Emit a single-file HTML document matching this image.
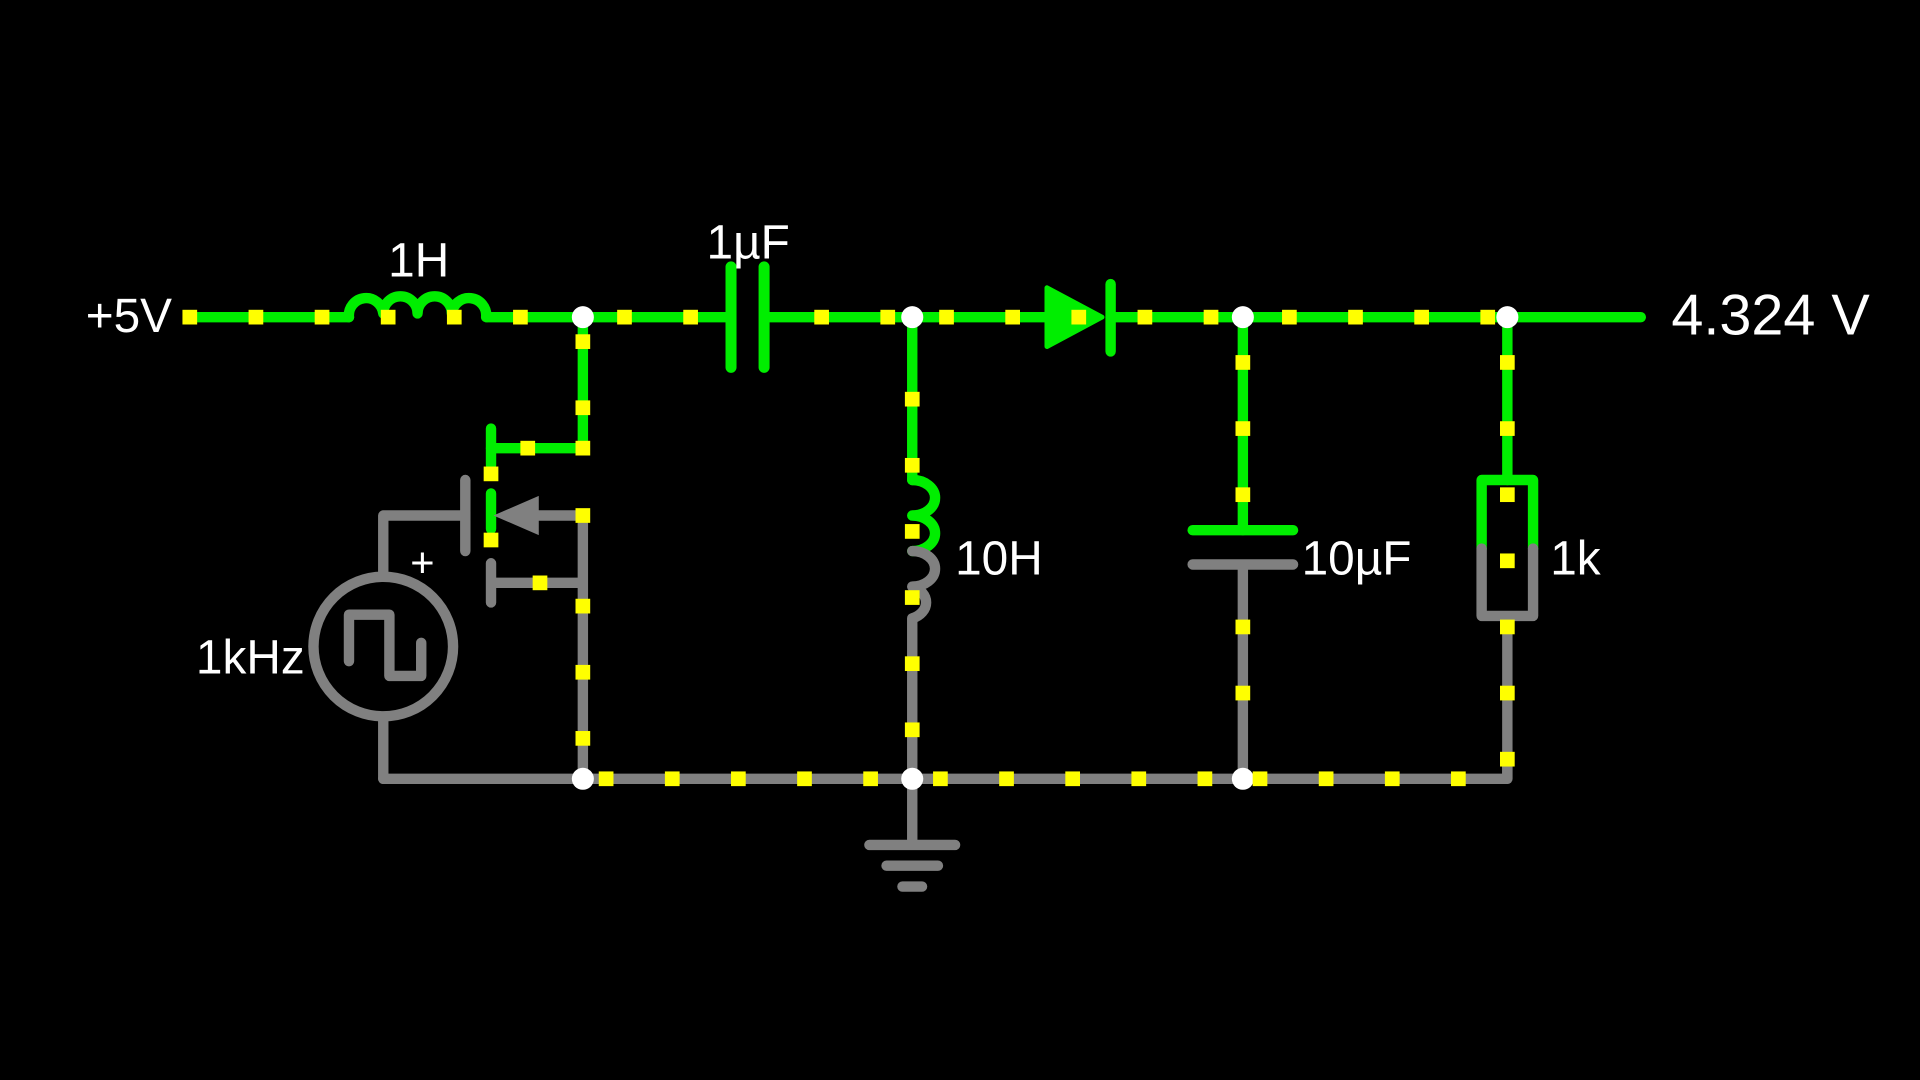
<!DOCTYPE html>
<html><head><meta charset="utf-8"><style>
html,body{margin:0;padding:0;background:#000;width:1920px;height:1080px;overflow:hidden}
svg{display:block}
text{font-family:"Liberation Sans",sans-serif;fill:#fff}
</style></head><body>
<svg width="1920" height="1080" viewBox="0 0 1568 882" preserveAspectRatio="none">
<rect width="1568" height="882" fill="#000"/>
<g fill="none" stroke-linecap="round" stroke-linejoin="round" stroke-width="8.5">
<g stroke="#00ee00">
<path d="M155 259 H285"/>
<path d="M285 259 a14 14 0 0 1 28 -3 a14 14 0 0 1 28 0 a14 14 0 0 1 28 0 a14 14 0 0 1 28 3"/>
<path d="M398 259 H593"/>
<path d="M628 259 H860"/>
<path d="M907 259 H1340"/>
<path d="M597 218 V300 M624 218 V300" stroke-width="9"/>
<path d="M907 232 V287"/>
<path d="M476 259 V366 H401"/>
<path d="M401 350 V380"/>
<path d="M401 403 V432" />
<path d="M745 259 V392"/>
<path d="M745 392 a18 14 0 0 1 0 29 a18 14 0 0 1 0 29"/>
<path d="M1015 259 V433"/>
<path d="M974 433 H1056"/>
<path d="M1231 259 V392"/>
<path d="M1210 448 V392 H1252 V448"/>
</g>
<polygon points="855,235 855,283 900,259" fill="#00ee00" stroke="#00ee00" stroke-width="4"/>
<g stroke="#808080">
<path d="M745 450 a18 14 0 0 1 0 29 a18 14 0 0 1 0 26 V636"/>
<path d="M974 461 H1056 M1015 461 V636"/>
<path d="M1210 448 V503 H1252 V448 M1231 503 V636"/>
<path d="M313 636 H1231 V620"/>
<path d="M476 421 V636 M401 476 H476 M401 460 V492"/>
<path d="M476 421 H420"/>
<path d="M380 392 V450 M380 421 H313 V470"/>
<circle cx="313" cy="528" r="57"/>
<path d="M313 586 V636"/>
<path d="M285 540 V502 H318 V552 H344 V525"/>
<path d="M745 636 V690 M710 690 H780 M724 707 H766 M737 724 H753"/>
</g>
<polygon points="403,421 440,405 440,437" fill="#808080"/>
</g>
<g fill="#fff"><circle cx="476" cy="259" r="9"/><circle cx="745" cy="259" r="9"/><circle cx="1015" cy="259" r="9"/><circle cx="1231" cy="259" r="9"/><circle cx="476" cy="636" r="9"/><circle cx="745" cy="636" r="9"/><circle cx="1015" cy="636" r="9"/></g>
<g fill="#ffff00">
<rect x="149" y="253" width="12" height="12"/><rect x="203" y="253" width="12" height="12"/><rect x="257" y="253" width="12" height="12"/><rect x="311" y="253" width="12" height="12"/><rect x="365" y="253" width="12" height="12"/><rect x="419" y="253" width="12" height="12"/><rect x="504" y="253" width="12" height="12"/><rect x="558" y="253" width="12" height="12"/><rect x="665" y="253" width="12" height="12"/><rect x="719" y="253" width="12" height="12"/><rect x="767" y="253" width="12" height="12"/><rect x="821" y="253" width="12" height="12"/><rect x="875" y="253" width="12" height="12"/><rect x="929" y="253" width="12" height="12"/><rect x="983" y="253" width="12" height="12"/><rect x="1047" y="253" width="12" height="12"/><rect x="1101" y="253" width="12" height="12"/><rect x="1155" y="253" width="12" height="12"/><rect x="1209" y="253" width="12" height="12"/>
<rect x="470" y="273" width="12" height="12"/><rect x="470" y="327" width="12" height="12"/><rect x="470" y="360" width="12" height="12"/><rect x="425" y="360" width="12" height="12"/><rect x="395" y="381" width="12" height="12"/><rect x="395" y="435" width="12" height="12"/><rect x="470" y="415" width="12" height="12"/><rect x="435" y="470" width="12" height="12"/><rect x="470" y="489" width="12" height="12"/><rect x="470" y="543" width="12" height="12"/><rect x="470" y="597" width="12" height="12"/>
<rect x="489" y="630" width="12" height="12"/><rect x="543" y="630" width="12" height="12"/><rect x="597" y="630" width="12" height="12"/><rect x="651" y="630" width="12" height="12"/><rect x="705" y="630" width="12" height="12"/><rect x="762" y="630" width="12" height="12"/><rect x="816" y="630" width="12" height="12"/><rect x="870" y="630" width="12" height="12"/><rect x="924" y="630" width="12" height="12"/><rect x="978" y="630" width="12" height="12"/><rect x="1023" y="630" width="12" height="12"/><rect x="1077" y="630" width="12" height="12"/><rect x="1131" y="630" width="12" height="12"/><rect x="1185" y="630" width="12" height="12"/>
<rect x="739" y="320" width="12" height="12"/><rect x="739" y="374" width="12" height="12"/><rect x="739" y="428" width="12" height="12"/><rect x="739" y="482" width="12" height="12"/><rect x="739" y="536" width="12" height="12"/><rect x="739" y="590" width="12" height="12"/>
<rect x="1009" y="290" width="12" height="12"/><rect x="1009" y="344" width="12" height="12"/><rect x="1009" y="398" width="12" height="12"/><rect x="1009" y="506" width="12" height="12"/><rect x="1009" y="560" width="12" height="12"/>
<rect x="1225" y="290" width="12" height="12"/><rect x="1225" y="344" width="12" height="12"/><rect x="1225" y="398" width="12" height="12"/><rect x="1225" y="452" width="12" height="12"/><rect x="1225" y="506" width="12" height="12"/><rect x="1225" y="560" width="12" height="12"/><rect x="1225" y="614" width="12" height="12"/>
</g>
<text x="70" y="271" font-size="39">+5V</text>
<text x="317" y="226" font-size="39">1H</text>
<text x="577" y="211" font-size="39">1µF</text>
<text x="1365" y="273" font-size="47">4.324 V</text>
<text x="780" y="469" font-size="39">10H</text>
<text x="1063" y="469" font-size="39">10µF</text>
<text x="1266" y="469" font-size="39">1k</text>
<text x="160" y="550" font-size="39">1kHz</text>
<text x="335" y="471" font-size="34">+</text>
</svg>
</body></html>
